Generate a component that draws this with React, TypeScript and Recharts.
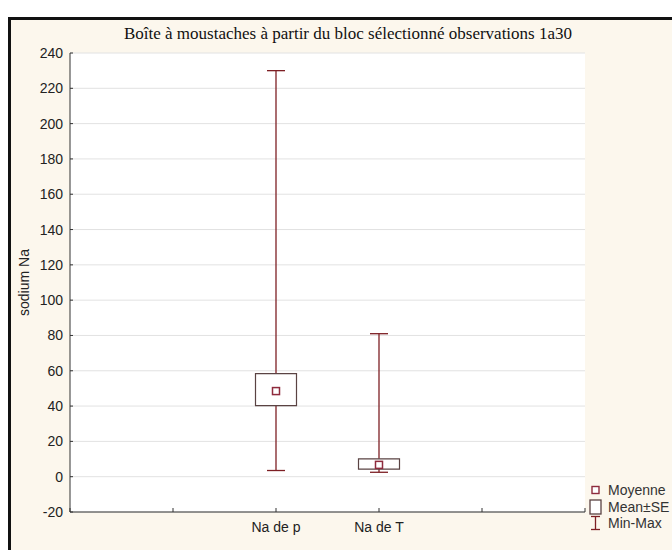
import { ComposedChart, Bar, Scatter, ErrorBar, XAxis, YAxis, CartesianGrid } from "recharts";

// Boîte à moustaches (Statistica style): moyenne, moyenne ± SE, min-max
const categories = ["Na de p", "Na de T"];
const slots = [2, 3]; // place of each variable on the 0..5 horizontal scale
const minimum = [3.5, 2.5];
const maximum = [230, 81];
const moyenne = [48.5, 6.7];
const seBas = [40.2, 4.3];
const seHaut = [58.4, 10.1];

const yTicks = [-20, 0, 20, 40, 60, 80, 100, 120, 140, 160, 180, 200, 220, 240];
const xTicks = [0, 1, 2, 3, 4, 5];

const data = categories.map((name, i) => ({
  name,
  x: slots[i],
  mean: moyenne[i],
  box: [seBas[i], seHaut[i]],
  whisker: [moyenne[i] - minimum[i], maximum[i] - moyenne[i]],
}));

const RED = "#7d1f24";
const BOX = "#5a4343";
const SANS = "'Liberation Sans', Arial, sans-serif";

const MeanMarker = (props: any) => {
  const { cx, cy } = props;
  if (cx == null || cy == null) return <g />;
  return <rect x={cx - 3.5} y={cy - 3.5} width={7} height={7} fill="#fff" stroke="#8e2b3d" strokeWidth={1.5} />;
};

const Nothing = () => <g />;

const xLabel = (v: number) => {
  const i = slots.indexOf(v);
  return i >= 0 ? categories[i] : "";
};

const LegendBox = () => (
  <div
    style={{
      position: "absolute",
      left: 589,
      top: 482,
      fontFamily: SANS,
      fontSize: 14,
      color: "#333",
      lineHeight: "16.5px",
    }}
  >
    <div style={{ display: "flex", alignItems: "center" }}>
      <svg width={19} height={16}>
        <rect x={3} y={4.5} width={7} height={7} fill="#fff" stroke="#8e2b3d" strokeWidth={1.4} />
      </svg>
      <span>Moyenne</span>
    </div>
    <div style={{ display: "flex", alignItems: "center" }}>
      <svg width={19} height={16}>
        <rect x={1} y={1} width={11} height={14} fill="#fff" stroke={BOX} strokeWidth={1.3} />
      </svg>
      <span>Mean±SE</span>
    </div>
    <div style={{ display: "flex", alignItems: "center" }}>
      <svg width={19} height={16}>
        <line x1={2} x2={11} y1={1.5} y2={1.5} stroke={RED} strokeWidth={1.3} />
        <line x1={6.5} x2={6.5} y1={1.5} y2={14.5} stroke={RED} strokeWidth={1.3} />
        <line x1={2} x2={11} y1={14.5} y2={14.5} stroke={RED} strokeWidth={1.3} />
      </svg>
      <span>Min-Max</span>
    </div>
  </div>
);

export default function App() {
  return (
    <div style={{ position: "absolute", left: 0, top: 0, width: 672, height: 550, overflow: "hidden", background: "#fff" }}>
      <div
        style={{
          position: "absolute",
          left: 8,
          top: 17,
          width: 700,
          height: 600,
          background: "#fcf7ed",
          borderLeft: "3px solid #111",
          borderTop: "3px solid #111",
        }}
      />
      <div
        style={{
          position: "absolute",
          left: 0,
          top: 24,
          width: 696,
          textAlign: "center",
          fontFamily: "'Liberation Serif', 'Times New Roman', serif",
          fontSize: 17,
          lineHeight: "19px",
          color: "#111",
        }}
      >
        Boîte à moustaches à partir du bloc sélectionné observations 1a30
      </div>
      <div style={{ position: "absolute", left: 0, top: 0 }}>
        <ComposedChart width={672} height={550} data={data} margin={{ top: 53, right: 87, bottom: 0, left: 0 }}>
          <CartesianGrid horizontal vertical={false} stroke="#e2e2e2" fill="#fff" />
          <XAxis
            dataKey="x"
            type="number"
            domain={[0, 5]}
            ticks={xTicks}
            allowDataOverflow
            height={38}
            tickFormatter={xLabel}
            tickSize={-4}
            tickMargin={14}
            stroke="#333"
            tick={{ fill: "#222", fontSize: 14, fontFamily: SANS }}
          />
          <XAxis
            xAxisId="top"
            dataKey="x"
            type="number"
            orientation="top"
            domain={[0, 5]}
            ticks={xTicks}
            height={0}
            tick={false}
            tickSize={-4}
            stroke="#333"
          />
          <YAxis
            type="number"
            domain={[-20, 240]}
            ticks={yTicks}
            interval={0}
            width={70}
            tickSize={-3}
            tickMargin={10}
            stroke="#333"
            tick={{ fill: "#222", fontSize: 14, fontFamily: SANS }}
            label={{
              value: "sodium Na",
              angle: -90,
              position: "insideLeft",
              offset: 24,
              style: { textAnchor: "middle", fill: "#222", fontSize: 14, fontFamily: SANS },
            }}
          />
          <YAxis yAxisId="right" orientation="right" domain={[-20, 240]} width={0} tick={false} stroke="#333" />
          <Scatter dataKey="mean" shape={Nothing} isAnimationActive={false} zIndex={500}>
            <ErrorBar dataKey="whisker" direction="y" width={9} stroke={RED} strokeWidth={1.3} zIndex={500} />
          </Scatter>
          <Bar dataKey="box" barSize={41} fill="#fff" stroke={BOX} strokeWidth={1.2} isAnimationActive={false} zIndex={700} />
          <Scatter dataKey="mean" shape={MeanMarker} isAnimationActive={false} zIndex={800} />
        </ComposedChart>
      </div>
      <LegendBox />
    </div>
  );
}
